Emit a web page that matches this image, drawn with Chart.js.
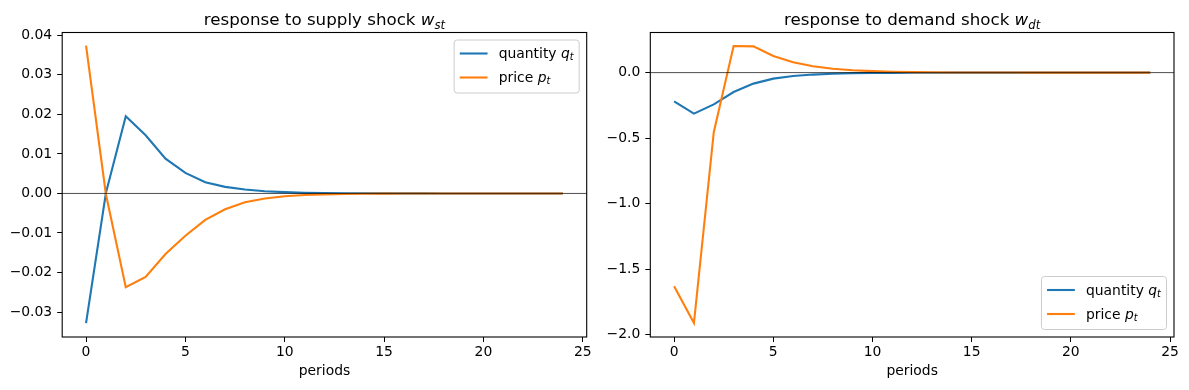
<!DOCTYPE html>
<html>
<head>
<meta charset="utf-8">
<script src="https://cdn.jsdelivr.net/npm/chart.js@4.4.1/dist/chart.umd.min.js"></script>
<style>
  html, body { margin: 0; padding: 0; background: #fff; }
  #wrap { position: relative; width: 1189px; height: 390px; overflow: hidden; }
  .box { position: absolute; top: 0; height: 390px; }
  #supplyBox { left: 0; width: 600px; }
  #demandBox { left: 595px; width: 594px; }
</style>
</head>
<body>
<div id="wrap">
  <div class="box" id="supplyBox"><canvas id="supplyChart"></canvas></div>
  <div class="box" id="demandBox"><canvas id="demandChart"></canvas></div>
</div>
<script>
const periods = [0, 1, 2, 3, 4, 5, 6, 7, 8, 9, 10, 11, 12, 13, 14, 15, 16, 17, 18, 19, 20, 21, 22, 23, 24];
const xTicks = [0, 5, 10, 15, 20, 25];

// response to supply shock
const supplyQuantity = [-0.0328, 0.0001, 0.0195, 0.0147, 0.0088, 0.0052, 0.00285, 0.00167, 0.00098, 0.00057,
  0.00033, 0.00019, 0.00011, 0.000064, 0.000037, 0.000021, 0.000012, 0.000007, 0.000004, 0.0000023,
  0.0000013, 0.0000008, 0.0000004, 0.0000003, 0.0000001];
const supplyPrice = [0.0374, -0.0002, -0.0237, -0.0211, -0.0153, -0.0107, -0.0067, -0.0040, -0.0022, -0.00126,
  -0.00072, -0.00041, -0.00024, -0.00014, -0.00008, -0.000046, -0.000026, -0.000015, -0.0000086, -0.000005,
  -0.0000028, -0.0000016, -0.0000009, -0.0000005, -0.0000003];
const supplyYTicks = [-0.03, -0.02, -0.01, 0, 0.01, 0.02, 0.03, 0.04];

// response to demand shock
const demandQuantity = [-0.219, -0.313, -0.242, -0.148, -0.084, -0.046, -0.026, -0.015, -0.0085, -0.005,
  -0.003, -0.0017, -0.001, -0.0006, -0.00035, -0.0002, -0.0001, -0.00006, -0.00004, -0.00002,
  -0.00001, -0.000007, -0.000004, -0.000002, -0.000001];
const demandPrice = [-1.629, -1.911, -0.455, 0.203, 0.2, 0.127, 0.079, 0.048, 0.029, 0.018,
  0.011, 0.0065, 0.004, 0.0024, 0.0014, 0.0009, 0.0005, 0.0003, 0.0002, 0.0001,
  0.00007, 0.00004, 0.00002, 0.00001, 0.00001];
const demandYTicks = [-2.0, -1.5, -1.0, -0.5, 0.0];

const BLUE = '#1f77b4';
const ORANGE = '#ff7f0e';
const FONT = '"DejaVu Sans", sans-serif';

// titles and legend labels with italic / subscript pieces
const titles = {
  supply: [{ t: 'response to supply shock ' }, { t: 'w', it: true }, { t: 'st', it: true, sub: true }],
  demand: [{ t: 'response to demand shock ' }, { t: 'w', it: true }, { t: 'dt', it: true, sub: true }],
};
const legendItems = [
  { color: BLUE, parts: [{ t: 'quantity ' }, { t: 'q', it: true }, { t: 't', it: true, sub: true }] },
  { color: ORANGE, parts: [{ t: 'price ' }, { t: 'p', it: true }, { t: 't', it: true, sub: true }] },
];

function partFont(p, size) {
  const s = p.sub ? size * 0.7 : size;
  return (p.it ? 'italic ' : '') + s + 'px ' + FONT;
}

function richWidth(ctx, parts, size) {
  let w = 0;
  parts.forEach(p => { ctx.font = partFont(p, size); w += ctx.measureText(p.t).width; });
  return w;
}

function drawRich(ctx, parts, x, y, size) {
  parts.forEach(p => {
    ctx.font = partFont(p, size);
    ctx.fillText(p.t, x, p.sub ? y + size * 0.22 : y);
    x += ctx.measureText(p.t).width;
  });
}

function fmt(v, digits) {
  const s = Math.abs(v).toFixed(digits);
  return (v < 0 && Number(s) !== 0 ? '\u2212' : '') + s;
}

const decor = {
  id: 'decor',
  afterDatasetsDraw(chart, args, opts) {
    const { ctx, chartArea: a } = chart;
    const y0 = chart.scales.y.getPixelForValue(0);
    ctx.save();
    ctx.strokeStyle = '#000';
    ctx.lineWidth = 0.7;
    ctx.beginPath();
    ctx.moveTo(a.left, y0);
    ctx.lineTo(a.right, y0);
    ctx.stroke();
    ctx.restore();
  },
  afterDraw(chart, args, opts) {
    const { ctx, chartArea: a } = chart;
    ctx.save();
    // axes frame
    ctx.strokeStyle = '#000';
    ctx.lineWidth = 1.1;
    ctx.strokeRect(a.left, a.top, a.right - a.left, a.bottom - a.top);

    // title
    ctx.fillStyle = '#000';
    ctx.textBaseline = 'alphabetic';
    ctx.textAlign = 'left';
    const tParts = titles[opts.key];
    const tw = richWidth(ctx, tParts, 16.7);
    drawRich(ctx, tParts, (a.left + a.right) / 2 - tw / 2, 25, 16.7);

    // legend
    const fs = 13.9;
    let textW = 0;
    legendItems.forEach(it => { textW = Math.max(textW, richWidth(ctx, it.parts, fs)); });
    const bw = 5.6 + 27.8 + 11.1 + textW + 5.6;
    const bh = 53;
    const bx = a.right - 7.5 - bw;
    const by = opts.legend === 'top' ? a.top + 7.5 : a.bottom - 7.5 - bh;
    ctx.beginPath();
    ctx.roundRect(bx, by, bw, bh, 3);
    ctx.fillStyle = 'rgba(255,255,255,0.8)';
    ctx.fill();
    ctx.strokeStyle = '#cccccc';
    ctx.lineWidth = 1;
    ctx.stroke();
    ctx.textBaseline = 'middle';
    legendItems.forEach((it, i) => {
      const ry = by + 13.5 + i * 24;
      ctx.strokeStyle = it.color;
      ctx.lineWidth = 2.1;
      ctx.beginPath();
      ctx.moveTo(bx + 5.6, ry);
      ctx.lineTo(bx + 5.6 + 27.8, ry);
      ctx.stroke();
      ctx.fillStyle = '#000';
      drawRich(ctx, it.parts, bx + 44.5, ry + 1, fs);
    });
    ctx.restore();
  },
};

function makeChart(id, key, quantity, price, yTicks, yMin, yMax, digits, yWidth, padRight, legendPos) {
  const tickFont = { family: FONT, size: 13.9 };
  return new Chart(document.getElementById(id), {
    type: 'line',
    data: {
      labels: periods,
      datasets: [
        { label: 'quantity', data: quantity, borderColor: BLUE, order: 1 },
        { label: 'price', data: price, borderColor: ORANGE, order: 0 },
      ],
    },
    options: {
      responsive: true,
      maintainAspectRatio: false,
      animation: false,
      parsing: false,
      normalized: true,
      datasets: { line: { borderWidth: 2.1, pointRadius: 0, tension: 0, fill: false } },
      layout: { padding: { top: 32.5, right: padRight, bottom: 0, left: 0 } },
      plugins: {
        legend: { display: false },
        tooltip: { enabled: false },
        decor: { key: key, legend: legendPos },
      },
      scales: {
        x: {
          type: 'linear',
          min: -1.2,
          max: 25.2,
          border: { display: false },
          grid: { display: true, drawOnChartArea: false, drawTicks: true, tickLength: 5, color: '#000', lineWidth: 1 },
          ticks: { color: '#000', font: tickFont, padding: 2, maxRotation: 0, callback: v => String(v) },
          afterBuildTicks: s => { s.ticks = xTicks.map(v => ({ value: v })); },
          afterFit: s => { s.height = 53; },
          title: { display: true, text: 'periods', color: '#000', font: tickFont, padding: { top: 0, bottom: 10 } },
        },
        y: {
          type: 'linear',
          min: yMin,
          max: yMax,
          border: { display: false },
          grid: { display: true, drawOnChartArea: false, drawTicks: true, tickLength: 5, color: '#000', lineWidth: 1 },
          ticks: { color: '#000', font: tickFont, padding: 5, callback: v => fmt(v, digits) },
          afterBuildTicks: s => { s.ticks = yTicks.map(v => ({ value: v })); },
          afterFit: s => { s.width = yWidth; },
        },
      },
    },
    plugins: [decor],
  });
}

// chart.js needs {x, y} points when parsing is off
function points(values) {
  return values.map((v, i) => ({ x: periods[i], y: v }));
}

makeChart('supplyChart', 'supply', points(supplyQuantity), points(supplyPrice), supplyYTicks,
  -0.0363, 0.0407, 2, 62.2, 13.3, 'top');
makeChart('demandChart', 'demand', points(demandQuantity), points(demandPrice), demandYTicks,
  -2.017, 0.306, 1, 55.3, 15, 'bottom');
</script>
</body>
</html>
